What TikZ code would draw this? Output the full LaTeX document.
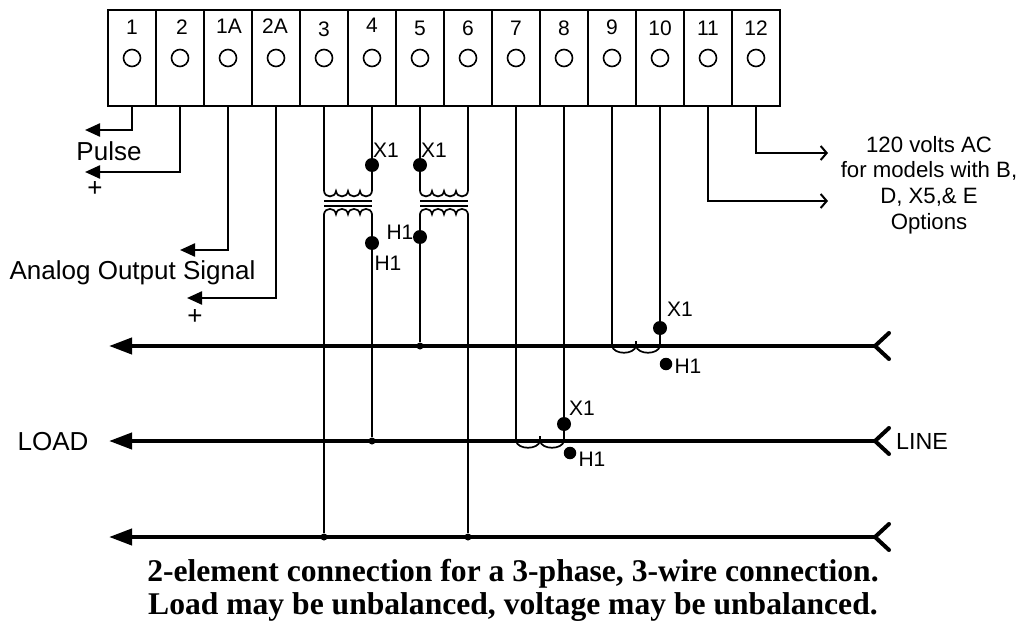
\documentclass[tikz,border=0pt]{standalone}
\usepackage{fontspec}
\setmainfont{Liberation Sans}
\newfontfamily\capfont{Liberation Serif}
\usetikzlibrary{arrows.meta}

\begin{document}
\begin{tikzpicture}[x=1pt,y=-1pt,wire/.style={line width=2.3pt},main/.style={line width=4pt},
  cell/.style={draw,line width=2.3pt,minimum width=48pt,minimum height=96pt,inner sep=0pt},
  term/.style={draw,circle,line width=1.6pt,minimum size=17pt,inner sep=0pt},
  bigdot/.style={fill,circle,minimum size=14pt,inner sep=0pt},
  smalldot/.style={fill,circle,minimum size=7pt,inner sep=0pt},
  big/.style={font=\fontsize{26}{28}\selectfont,inner sep=0pt},
  tag/.style={font=\fontsize{21}{24}\selectfont,inner sep=0pt},
  signal/.style={wire,-{Triangle[length=15pt,width=13pt]}},
  bus/.style={main,-{Triangle[length=23pt,width=16pt]}},
  open/.style={wire,-{Straight Barb[length=6pt,width=14pt,line width=2pt]}},
  fork/.style={main,line cap=round,line join=miter}]
\useasboundingbox (0,0) rectangle (1021,626);

  % terminal block
  \foreach \n/\t/\lx/\ly in {1/1/132/27,2/2/182/27,3/1A/229/26,4/2A/275/26,5/3/324/29,6/4/372/25,
      7/5/420/28,8/6/468/28,9/7/516/28,10/8/564/28,11/9/612/27,12/10/660/28,13/11/708/28,14/12/756/28}{
    \node[cell] (C\n) at ({84+48*\n},58) {};
    \node[term] (T\n) at ({84+48*\n},58) {};
    \node[tag] (N\n) at (\lx,\ly) {\t};
  }

  % ends of the wires
  \coordinate (P1) at (85,130);
  \coordinate (P2) at (85,172);
  \coordinate (A1) at (180,250);
  \coordinate (A2) at (187,298);
  \coordinate (V1) at (828,153);
  \coordinate (V2) at (828,201);

  \draw[signal] (C1.south) |- (P1);
  \draw[signal] (C2.south) |- (P2);
  \draw[signal] (C3.south) |- (A1);
  \draw[signal] (C4.south) |- (A2);
  \draw[open] (C14.south) |- (V1);
  \draw[open] (C13.south) |- (V2);

  \node[big] (Pulse) at (109,151) {Pulse};
  \node[big] (PlusP) at (95,189) {+};
  \node[big] (Analog) at (132.5,273) {Analog Output Signal};
  \node[big] (PlusA) at (195,317) {+};
  \node[big] (Load) at (53,442) {LOAD};
  \node[big,font=\fontsize{23.3}{26}\selectfont] (Line) at (922,441) {LINE};
  \node[align=center,inner sep=0pt,font=\fontsize{22.2}{25.7}\selectfont] (Volts) at (929,185)
    {120 volts AC\\for models with B,\\D, X5,\& E\\Options};
  \node[align=center,inner sep=0pt,font=\capfont\bfseries\fontsize{31.6}{33}\selectfont] (Note) at (513,590.5)
    {2-element connection for a 3-phase, 3-wire connection.\\Load may be unbalanced, voltage may be unbalanced.};

  % three lines
  \foreach \b/\y in {A/346,B/441,C/537}{
    \coordinate (\b L) at (109,\y);
    \coordinate (\b R) at (875,\y);
    \coordinate (\b U) at (889,\y-13);
    \coordinate (\b D) at (889,\y+13);
    \draw[bus] (\b R) -- (\b L);
    \draw[fork] (\b U) -- (\b R) -- (\b D);
  }

  % potential transformers
  \foreach \p/\s/\t in {5/6/L,7/8/R}{
    \coordinate (\t1) at ([yshift=-84pt]C\p.south);
    \coordinate (\t2) at ([yshift=-84pt]C\s.south);
    \draw[wire] (C\p.south) -- (\t1);
    \draw[wire] (C\s.south) -- (\t2);
    \draw[line width=1.7pt] (\t1)
      .. controls +(1,7) and +(-1,7) .. ++(12,0)
      .. controls +(1,7) and +(-1,7) .. ++(12,0)
      .. controls +(1,7) and +(-1,7) .. ++(12,0)
      .. controls +(1,7) and +(-1,7) .. ++(12,0);
    \draw[line width=1.7pt] ([yshift=-23pt]\t1)
      .. controls +(1,-7) and +(-1,-7) .. ++(12,0)
      .. controls +(1,-7) and +(-1,-7) .. ++(12,0)
      .. controls +(1,-7) and +(-1,-7) .. ++(12,0)
      .. controls +(1,-7) and +(-1,-7) .. ++(12,0);
    \draw[line width=2pt] ([yshift=-9.5pt]\t1) -- ([yshift=-9.5pt]\t2);
    \draw[line width=2pt] ([yshift=-14.5pt]\t1) -- ([yshift=-14.5pt]\t2);
  }

  % junction dots on the lines
  \node[smalldot] (J1) at (324,537) {};
  \node[smalldot] (J2) at (372,441) {};
  \node[smalldot] (J3) at (420,346) {};
  \node[smalldot] (J4) at (468,537) {};

  \draw[wire] ([yshift=-23pt]L1) -- (J1);
  \draw[wire] ([yshift=-23pt]L2) -- (J2);
  \draw[wire] ([yshift=-23pt]R1) -- (J3);
  \draw[wire] ([yshift=-23pt]R2) -- (J4);

  \node[bigdot] (DX1) at (372,165) {};
  \node[bigdot] (DX2) at (420,165) {};
  \node[bigdot] (DH1) at (372,243) {};
  \node[bigdot] (DH2) at (420,237) {};
  \node[tag] at (386,150) {X1};
  \node[tag] at (434,150) {X1};
  \node[tag] at (388,263) {H1};
  \node[tag] at (400,232) {H1};

  % current transformers
  \foreach \a/\b/\y/\k/\dx/\dy/\hx/\hy/\xx/\xy/\tx/\ty in {
      11/12/346/A/660/328/666/364/680/309/688/366,
      9/10/441/B/564/424/570/453/582/408/592/459}{
    \coordinate (E\k) at (C\a.south |- \k L);
    \coordinate (F\k) at (C\b.south |- \k L);
    \draw[wire] (C\a.south) -- (E\k);
    \draw[wire] (C\b.south) -- (F\k);
    \draw[line width=1.7pt] (E\k)
      .. controls +(2,9) and +(-2,9) .. ++(24,0)
      .. controls +(2,9) and +(-2,9) .. ++(24,0);
    \draw[line width=1.7pt] ([xshift=24pt]E\k) -- ++(0,-5);
    \node[bigdot] (X\k) at (\dx,\dy) {};
    \node[bigdot,minimum size=12.5pt] (H\k) at (\hx,\hy) {};
    \node[tag] at (\xx,\xy) {X1};
    \node[tag] at (\tx,\ty) {H1};
  }
\end{tikzpicture}
\end{document}
